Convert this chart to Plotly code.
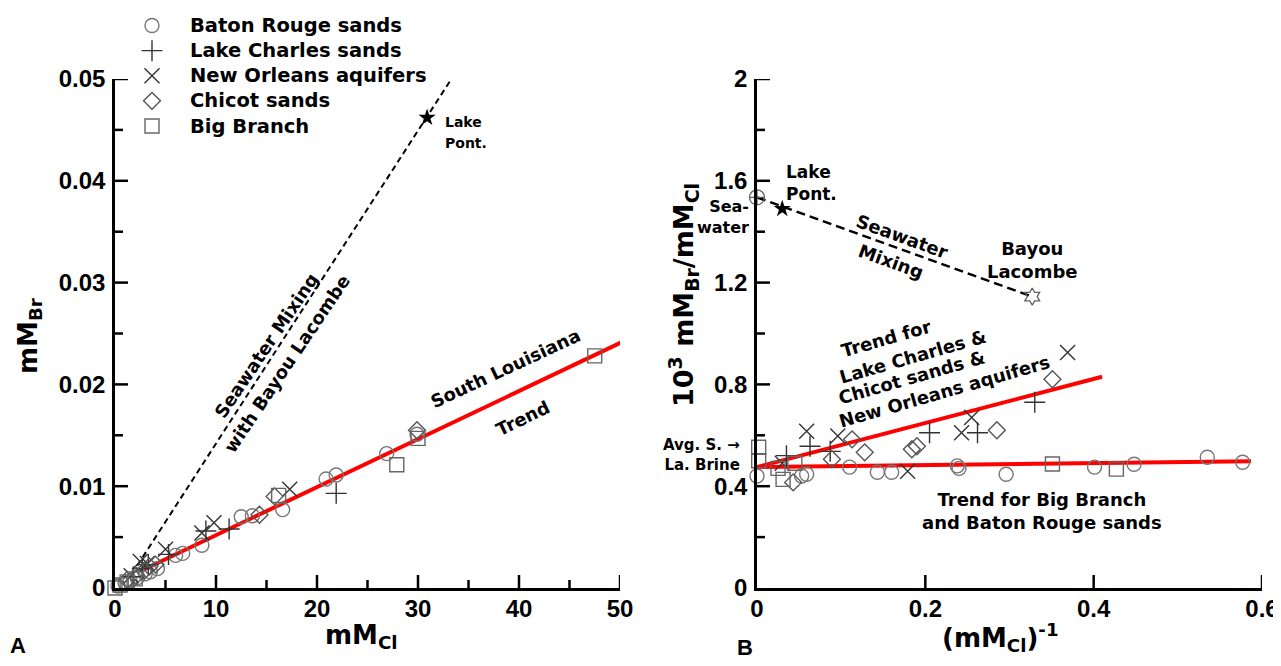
import plotly.graph_objects as go

# ---------------- Panel A data: mM_Cl vs mM_Br ----------------
br_cl_A = [0.3, 1.0, 1.5, 2.2, 3.0, 3.5, 4.2, 6.0, 6.7, 8.6, 12.5, 13.6, 16.6, 20.9, 21.9, 26.9, 29.9]
br_br_A = [0.0002, 0.0005, 0.0007, 0.0010, 0.0014, 0.0016, 0.0019, 0.0032, 0.0034, 0.0042, 0.0070, 0.0071, 0.0077, 0.0107, 0.0111, 0.0132, 0.0151]
lc_cl_A = [1.8, 2.7, 3.3, 5.3, 9.0, 11.3, 21.9]
lc_br_A = [0.0011, 0.0019, 0.0023, 0.0033, 0.0056, 0.0058, 0.0093]
no_cl_A = [1.6, 2.5, 3.2, 5.0, 8.6, 9.8, 17.3]
no_br_A = [0.0012, 0.0026, 0.0024, 0.0038, 0.0054, 0.0064, 0.0097]
ch_cl_A = [1.2, 2.1, 2.9, 3.4, 4.0, 14.3, 15.8, 29.9]
ch_br_A = [0.0008, 0.0012, 0.0017, 0.0021, 0.0023, 0.0072, 0.0090, 0.0155]
bb_cl_A = [0.0, 0.5, 1.2, 2.0, 16.2, 27.9, 30.0, 47.5]
bb_br_A = [0.0, 0.0003, 0.0006, 0.0009, 0.0091, 0.0121, 0.0147, 0.0228]
lp_cl_A = [30.9]
lp_br_A = [0.0462]
mix_cl_A = [2.2, 33.3]
mix_br_A = [0.0022, 0.0500]
trend_cl_A = [2.6, 50.5]
trend_br_A = [0.0017, 0.0243]

# ---------------- Panel B data: 1/mM_Cl vs 10^3 Br/Cl ----------------
br_x_B = [0.0, 0.053, 0.059, 0.11, 0.143, 0.16, 0.238, 0.24, 0.296, 0.401, 0.448, 0.535, 0.577]
br_y_B = [0.44, 0.44, 0.447, 0.475, 0.455, 0.455, 0.48, 0.47, 0.447, 0.475, 0.486, 0.514, 0.494]
lc_x_B = [0.035, 0.063, 0.087, 0.205, 0.262, 0.33]
lc_y_B = [0.52, 0.557, 0.537, 0.61, 0.61, 0.73]
no_x_B = [0.03, 0.059, 0.096, 0.179, 0.243, 0.255, 0.369]
no_y_B = [0.49, 0.616, 0.597, 0.459, 0.61, 0.67, 0.925]
ch_x_B = [0.043, 0.089, 0.113, 0.128, 0.184, 0.19, 0.285, 0.351]
ch_y_B = [0.415, 0.506, 0.584, 0.533, 0.545, 0.557, 0.62, 0.82]
bb_x_B = [0.002, 0.002, 0.025, 0.031, 0.045, 0.351, 0.427]
bb_y_B = [0.553, 0.50, 0.47, 0.427, 0.49, 0.487, 0.467]
sw_x_B, sw_y_B = [0.0], [1.535]
lp_x_B, lp_y_B = [0.03], [1.49]
bl_x_B, bl_y_B = [0.327], [1.145]
mix_x_B = [0.0, 0.327]
mix_y_B = [1.535, 1.145]
trend1_x_B = [0.0, 0.41]
trend1_y_B = [0.475, 0.83]
trend2_x_B = [0.0, 0.587]
trend2_y_B = [0.475, 0.498]

# ---------------- tick values ----------------
A_x_major = [10, 20, 30, 40, 50]
A_x_minor = [5, 15, 25, 35, 45]
A_y_major = [0.01, 0.02, 0.03, 0.04, 0.05]
A_y_minor = [0.005, 0.015, 0.025, 0.035, 0.045]
B_x_major = [0.2, 0.4, 0.6]
B_y_major = [0.4, 0.8, 1.2, 1.6, 2.0]
B_y_minor = [0.2, 0.6, 1.0, 1.4, 1.8]

series_names = ["Baton Rouge sands", "Lake Charles sands", "New Orleans aquifers", "Chicot sands", "Big Branch"]
symbols = ["circle-open", "cross-thin-open", "x-thin-open", "diamond-open", "square-open"]
sizes = [14, 15, 15, 13, 14]
colors = ["#767676", "#333333", "#333333", "#555555", "#666666"]

A_sets = [(br_cl_A, br_br_A), (lc_cl_A, lc_br_A), (no_cl_A, no_br_A), (ch_cl_A, ch_br_A), (bb_cl_A, bb_br_A)]
B_sets = [(br_x_B, br_y_B), (lc_x_B, lc_y_B), (no_x_B, no_y_B), (ch_x_B, ch_y_B), (bb_x_B, bb_y_B)]

W, H = 1281, 666
OFF = 8  # page body margin: screen pixel = figure pixel + OFF
def fx(x):
    return (x - OFF) / W
def fy(y):
    return 1 - (y - OFF) / H

TXT = "DejaVu Sans"
NUM = "Liberation Sans"

fig = go.Figure()

fig.add_trace(go.Scatter(x=mix_cl_A, y=mix_br_A, mode="lines", line=dict(color="black", width=2, dash="6px,4px"),
                         showlegend=False, xaxis="x", yaxis="y", cliponaxis=False))
fig.add_trace(go.Scatter(x=trend_cl_A, y=trend_br_A, mode="lines", line=dict(color="#ff0000", width=4),
                         showlegend=False, xaxis="x", yaxis="y", cliponaxis=False))
fig.add_trace(go.Scatter(x=mix_x_B, y=mix_y_B, mode="lines", line=dict(color="black", width=2.5, dash="9px,5px"),
                         showlegend=False, xaxis="x2", yaxis="y2", cliponaxis=False))
fig.add_trace(go.Scatter(x=trend1_x_B, y=trend1_y_B, mode="lines", line=dict(color="#ff0000", width=4),
                         showlegend=False, xaxis="x2", yaxis="y2", cliponaxis=False))
fig.add_trace(go.Scatter(x=trend2_x_B, y=trend2_y_B, mode="lines", line=dict(color="#ff0000", width=4),
                         showlegend=False, xaxis="x2", yaxis="y2", cliponaxis=False))

for i, name in enumerate(series_names):
    mk = dict(symbol=symbols[i], size=sizes[i], color=colors[i], line=dict(width=1.4, color=colors[i]))
    fig.add_trace(go.Scatter(x=A_sets[i][0], y=A_sets[i][1], mode="markers", marker=mk,
                             name='<span style="font-size:19.5px">' + name + '</span>',
                             xaxis="x", yaxis="y", cliponaxis=False))
    fig.add_trace(go.Scatter(x=B_sets[i][0], y=B_sets[i][1], mode="markers", marker=mk,
                             showlegend=False, xaxis="x2", yaxis="y2", cliponaxis=False))

fig.add_trace(go.Scatter(x=lp_cl_A, y=lp_br_A, mode="markers", showlegend=False, xaxis="x", yaxis="y",
                         marker=dict(symbol="star", size=13, color="black")))
fig.add_trace(go.Scatter(x=lp_x_B, y=lp_y_B, mode="markers", showlegend=False, xaxis="x2", yaxis="y2",
                         marker=dict(symbol="star", size=13, color="black")))
fig.add_trace(go.Scatter(x=sw_x_B, y=sw_y_B, mode="markers", showlegend=False, xaxis="x2", yaxis="y2", cliponaxis=False,
                         marker=dict(symbol="circle-cross-open", size=15, color="#606060", line=dict(width=1.3))))
fig.add_trace(go.Scatter(x=bl_x_B, y=bl_y_B, mode="markers", showlegend=False, xaxis="x2", yaxis="y2",
                         marker=dict(symbol="hexagram-open", size=13, color="#606060", line=dict(width=1.3))))

A_xdom = [fx(115), fx(620)]
B_xdom = [fx(757), fx(1262)]
ydom = [fy(588), fy(79)]

tickfont = dict(family=NUM, size=24, color="black", weight="bold")
main = dict(showline=True, linecolor="black", linewidth=2.5, ticks="", showgrid=False, zeroline=False,
            tickfont=tickfont, mirror=False, tickmode="linear", tick0=0)

fig.update_layout(
    template="none",
    width=W, height=H, margin=dict(l=0, r=0, t=0, b=0), autosize=False,
    paper_bgcolor="white", plot_bgcolor="white",
    font=dict(family=TXT, color="black"),
    xaxis=dict(domain=A_xdom, range=[0, 50], anchor="y", dtick=10, ticklabelstandoff=-3, **main),
    yaxis=dict(domain=ydom, range=[0, 0.05], anchor="x", dtick=0.01, ticklabelstandoff=2, **main),
    xaxis2=dict(domain=B_xdom, range=[0, 0.6], anchor="y2", dtick=0.2, ticklabelstandoff=-3, **main),
    yaxis2=dict(domain=ydom, range=[0, 2], anchor="x2", dtick=0.4, ticklabelstandoff=2, **main),
    legend=dict(x=fx(114), y=fy(8), xanchor="left", yanchor="top",
                font=dict(family=TXT, size=17, color="black", weight="bold"),
                bgcolor="rgba(0,0,0,0)", borderwidth=0, tracegroupgap=0, itemwidth=66),
    showlegend=True,
)

# tick marks pointing into the plot, placed through the axes
def yticks(vals, xr, yr, x0, length):
    for v in vals:
        fig.add_shape(type="line", xref=xr, yref=yr, xsizemode="pixel", xanchor=x0, x0=0, x1=length,
                      y0=v, y1=v, line=dict(color="black", width=2.5))
def xticks(vals, xr, yr, y0, length):
    for v in vals:
        fig.add_shape(type="line", xref=xr, yref=yr, ysizemode="pixel", yanchor=y0, y0=0, y1=length,
                      x0=v, x1=v, line=dict(color="black", width=2.5))

yticks(A_y_major, "x", "y", 0, 13)
yticks(A_y_minor, "x", "y", 0, 8)
xticks(A_x_major, "x", "y", 0, 13)
xticks(A_x_minor, "x", "y", 0, 8)
yticks(B_y_major, "x2", "y2", 0, 13)
yticks(B_y_minor, "x2", "y2", 0, 8)
xticks(B_x_major, "x2", "y2", 0, 13)

def ann(text, x, y, size=18, angle=0, xanchor="center", align="center", family=TXT):
    fig.add_annotation(text=text, x=fx(x), y=fy(y), xref="paper", yref="paper", showarrow=False,
                       textangle=angle, xanchor=xanchor, yanchor="middle", align=align,
                       font=dict(family=family, size=size, color="black", weight="bold"))

# Panel A texts
ann("Lake", 443, 122, size=14, xanchor="left")
ann("Pont.", 443, 143, size=14, xanchor="left")
ann("Seawater Mixing", 266, 345, size=18, angle=-56)
ann("with Bayou Lacombe", 286, 364, size=18, angle=-56)
ann("South Louisiana", 505, 368, size=18, angle=-25)
ann("Trend", 522, 418, size=18, angle=-26)
ann("mM<sub>Br</sub>", 29, 336, size=26, angle=-90)
ann("mM<sub>Cl</sub>", 362, 636, size=26)
ann("A", 18, 645, size=22, family=NUM)
# Panel B texts
ann("Lake<br>Pont.", 784, 183, size=17, xanchor="left", align="left")
ann("Sea-<br>water", 751, 217, size=16, xanchor="right", align="right")
ann("Seawater", 902, 237, size=18, angle=20)
ann("Mixing", 891, 262, size=18, angle=20)
ann("Bayou<br>Lacombe", 1032, 260, size=18)
ann("Trend for", 886, 339, size=18, angle=-16)
ann("Lake Charles &amp;", 913, 356, size=18, angle=-16)
ann("Chicot sands &amp;", 911, 377, size=18, angle=-16)
ann("New Orleans aquifers", 944, 391, size=18, angle=-16)
ann("Trend for Big Branch<br>and Baton Rouge sands", 1042, 511, size=18)
ann("Avg. S. →<br>La. Brine", 742, 455, size=15, xanchor="right", align="right")
ann("10<sup>3</sup> mM<sub>Br</sub>/mM<sub>Cl</sub>", 683, 295, size=27, angle=-90)
ann("(mM<sub>Cl</sub>)<sup>-1</sup>", 1000, 637, size=26)
ann("B", 745, 647, size=22, family=NUM)

fig.write_html("out.html")
